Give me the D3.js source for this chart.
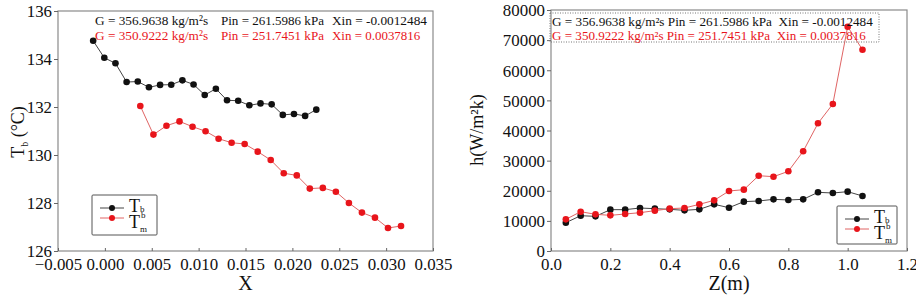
<!DOCTYPE html>
<html>
<head>
<meta charset="utf-8">
<script src="https://cdn.jsdelivr.net/npm/d3@7"></script>
<style>
  body { margin: 0; background: #fff; }
</style>
</head>
<body>
<div id="chart"></div>
<script>
// left panel: temperature vs quality
const xTb = [-0.00125, -0.00006, 0.00113, 0.00232, 0.00351, 0.0047, 0.00589, 0.00708, 0.00827, 0.00946, 0.01065,
             0.01184, 0.01303, 0.01422, 0.01541, 0.0166, 0.01779, 0.01898, 0.02017, 0.02136, 0.02255];
const tTb = [134.76, 134.05, 133.82, 133.04, 133.06, 132.82, 132.92, 132.93, 133.11, 132.94, 132.5,
             132.76, 132.28, 132.26, 132.07, 132.15, 132.11, 131.67, 131.71, 131.63, 131.89];
const xTm = [0.00378, 0.00518, 0.00657, 0.00796, 0.00935, 0.01074, 0.01213, 0.01352, 0.01491, 0.0163, 0.01769,
             0.01908, 0.02047, 0.02186, 0.02325, 0.02464, 0.02603, 0.02742, 0.02881, 0.0302, 0.03159];
const tTm = [132.04, 130.85, 131.22, 131.4, 131.18, 130.99, 130.68, 130.51, 130.46, 130.14, 129.79,
             129.24, 129.15, 128.6, 128.63, 128.47, 128.0, 127.6, 127.39, 126.96, 127.04];

// right panel: heat transfer coefficient vs length
const zPos = [0.05, 0.1, 0.15, 0.2, 0.25, 0.3, 0.35, 0.4, 0.45, 0.5, 0.55,
              0.6, 0.65, 0.7, 0.75, 0.8, 0.85, 0.9, 0.95, 1.0, 1.05];
const hTb = [9400, 11720, 11500, 13720, 13720, 14270, 14050, 13830, 13500, 13830, 15490,
             14380, 16380, 16600, 17150, 16930, 17150, 19480, 19250, 19700, 18260];
const hTm = [10500, 13050, 12170, 11840, 12280, 12720, 13390, 14050, 14270, 15490, 16820,
             19920, 20360, 25000, 24670, 26450, 33090, 42390, 48800, 74460, 66820];

const leftXTicks = [-0.005, 0, 0.005, 0.01, 0.015, 0.02, 0.025, 0.03, 0.035];
const leftYTicks = [126, 128, 130, 132, 134, 136];
const rightXTicks = [0, 0.2, 0.4, 0.6, 0.8, 1.0, 1.2];
const rightYTicks = [0, 10000, 20000, 30000, 40000, 50000, 60000, 70000, 80000];

const line1 = ["G = 356.9638 kg/m²s", "Pin = 261.5986 kPa", "Xin = -0.0012484"];
const line2 = ["G = 350.9222 kg/m²s", "Pin = 251.7451 kPa", "Xin = 0.0037816"];

const serif = "Liberation Serif, Times New Roman, Tinos, DejaVu Serif, Noto Serif, serif";
const blackMark = "#111", blackLine = "#444";
const redMark = "#e8151b", redLine = "#e06464";

const svg = d3.select("#chart").append("svg")
    .attr("width", 916)
    .attr("height", 295)
    .attr("font-family", serif);

function txt(x, y, size, col) {
    return svg.append("text")
        .attr("x", x).attr("y", y)
        .attr("font-family", serif)
        .attr("font-size", size)
        .attr("fill", col);
}

// shrink or grow a text so that it spans about w pixels
function fit(t, w) {
    let len = t.node().getComputedTextLength();
    let fs = +t.attr("font-size");
    if (len > 0) t.attr("font-size", (fs * w / len).toFixed(2));
    return t;
}

// font size that makes a sample label w pixels wide
function sizeFor(sample, w, base) {
    let t = txt(-500, -500, base, "#000").text(sample);
    let len = t.node().getComputedTextLength();
    t.remove();
    return base * w / len;
}

const tickSize = Math.min(sizeFor("0.000", 38, 17), 18);

function panel(box, xDom, yDom, xTicks, yTicks, xFmt, yFmt) {
    let x = d3.scaleLinear().domain(xDom).range([box.left, box.right]);
    let y = d3.scaleLinear().domain(yDom).range([box.bottom, box.top]);

    // frame
    svg.append("rect")
        .attr("x", box.left).attr("y", box.top)
        .attr("width", box.right - box.left).attr("height", box.bottom - box.top)
        .attr("fill", "none").attr("stroke", "#8a8a8a").attr("stroke-width", 1.2);

    let gx = svg.append("g")
        .attr("transform", `translate(0,${box.bottom})`)
        .call(d3.axisBottom(x).tickValues(xTicks).tickFormat(xFmt).tickSize(-3).tickPadding(7));
    let gy = svg.append("g")
        .attr("transform", `translate(${box.left},0)`)
        .call(d3.axisLeft(y).tickValues(yTicks).tickFormat(yFmt).tickSize(4).tickPadding(2));

    [gx, gy].forEach(g => {
        g.attr("font-family", serif).attr("font-size", tickSize);
        g.select(".domain").remove();
        g.selectAll(".tick line").attr("stroke", "#666");
        g.selectAll("text").attr("fill", "#111");
    });
    gx.selectAll("text").attr("dy", "0.71em");
    gy.selectAll("text").attr("dy", "0.34em");

    return {x, y};
}

function series(sc, xs, ys, lineCol, markCol) {
    let pts = xs.map((d, i) => [d, ys[i]]);
    svg.append("path")
        .datum(pts)
        .attr("fill", "none")
        .attr("stroke", lineCol)
        .attr("stroke-width", 1)
        .attr("d", d3.line().x(d => sc.x(d[0])).y(d => sc.y(d[1])));
    svg.append("g").selectAll("circle")
        .data(pts)
        .enter()
        .append("circle")
        .attr("cx", d => sc.x(d[0]))
        .attr("cy", d => sc.y(d[1]))
        .attr("r", 3.3)
        .attr("fill", markCol);
}

function legend(lx, ly, w, h) {
    svg.append("rect")
        .attr("x", lx).attr("y", ly).attr("width", w).attr("height", h)
        .attr("fill", "#fff").attr("stroke", "#555").attr("stroke-width", 1).attr("rx", 1);
    [[blackLine, blackMark, ly + 13], [redLine, redMark, ly + 23]].forEach(r => {
        svg.append("line")
            .attr("x1", lx + 8).attr("x2", lx + 32).attr("y1", r[2]).attr("y2", r[2])
            .attr("stroke", r[0]).attr("stroke-width", 1);
        svg.append("circle").attr("cx", lx + 20).attr("cy", r[2]).attr("r", 3).attr("fill", r[1]);
    });
    fit(txt(lx + 37, ly + 17, 18, "#111").text("T"), 11);
    txt(lx + 48, ly + 17, 9, "#111").text("b");
    fit(txt(lx + 37, ly + 33, 18, "#111").text("T"), 11);
    txt(lx + 49, ly + 23, 9, "#111").text("b");
    txt(lx + 48, ly + 37, 9, "#111").text("m");
}

// ---- left chart
let L = {left: 58, right: 433, top: 11, bottom: 251};
let sl = panel(L, [-0.005, 0.035], [126, 136], leftXTicks, leftYTicks, d3.format(".3f"), d3.format("d"));
series(sl, xTb, tTb, blackLine, blackMark);
series(sl, xTm, tTm, redLine, redMark);

const annoX = [95, 221, 332];
const annoW = [113, 103, 95];
[line1, line2].forEach((ln, i) => {
    let yy = 25 + i * 15;
    let col = i === 0 ? "#111" : "#e8151b";
    annoX.forEach((xx, j) => {
        let w = annoW[j] * (i === 1 && j === 2 ? 0.93 : 1);
        fit(txt(xx, yy, 15, col).text(ln[j]), w);
    });
});
legend(92, 195, 65, 40);

txt(sl.x(0.015), 290, 20, "#111")
    .attr("text-anchor", "middle").text("X");

let yl = svg.append("text")
    .attr("transform", "translate(24,132) rotate(-90)")
    .attr("text-anchor", "middle")
    .attr("font-family", serif)
    .attr("font-size", 18).attr("fill", "#111");
yl.append("tspan").text("T");
yl.append("tspan").text("b").attr("dy", 4).attr("font-size", 10);
yl.append("tspan").text(" (°C)").attr("dy", -4);

// ---- right chart
let R = {left: 551, right: 907, top: 10, bottom: 251};
let sr = panel(R, [0, 1.2], [0, 80000], rightXTicks, rightYTicks, d3.format(".1f"), d3.format("d"));
series(sr, zPos, hTb, blackLine, blackMark);
series(sr, zPos, hTm, redLine, redMark);

svg.append("rect")
    .attr("x", 550).attr("y", 13).attr("width", 329).attr("height", 29)
    .attr("fill", "none").attr("stroke", "#777").attr("stroke-width", 1)
    .attr("stroke-dasharray", "1,1.5");
fit(txt(552, 26, 15, "#111")
    .attr("xml:space", "preserve")
    .text(line1[0] + " " + line1[1] + "  " + line1[2]), 321);
fit(txt(552, 40, 15, "#e8151b")
    .attr("xml:space", "preserve")
    .text(line2[0] + " " + line2[1] + "  " + line2[2]), 314);
legend(837, 206, 60, 38);

txt(sr.x(0.6), 290, 20, "#111")
    .attr("text-anchor", "middle").text("Z(m)");

svg.append("text")
    .attr("transform", "translate(483,130) rotate(-90)")
    .attr("text-anchor", "middle")
    .attr("font-family", serif)
    .attr("font-size", 18).attr("fill", "#111")
    .text("h(W/m²k)");
</script>
</body>
</html>
